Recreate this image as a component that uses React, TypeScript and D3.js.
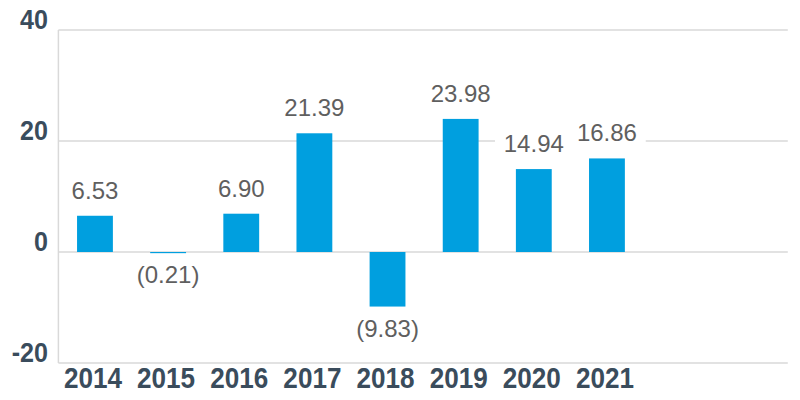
import React from "react";
import * as d3 from "d3";

const categories = ["2014", "2015", "2016", "2017", "2018", "2019", "2020", "2021"];
const values = [6.53, -0.21, 6.9, 21.39, -9.83, 23.98, 14.94, 16.86];
const yTicks = [-20, 0, 20, 40];
const totalSlots = 10;

const W = 800;
const H = 400;
const plotLeft = 58.4;
const plotRight = 789.8;
const plotTop = 30;
const plotBottom = 363;

const fmt = (v: number) => (v < 0 ? `(${Math.abs(v).toFixed(2)})` : v.toFixed(2));

export default function App() {
  const x = d3
    .scaleBand<number>()
    .domain(d3.range(totalSlots))
    .range([plotLeft, plotRight])
    .paddingInner(0.51)
    .paddingOuter(0.255);
  const y = d3.scaleLinear().domain([-20, 40]).range([plotBottom, plotTop]);
  const font = "Arial, 'Liberation Sans', sans-serif";

  const labelSize = 24;
  const labels = values.map((v, i) => {
    const cx = (x(i) as number) + x.bandwidth() / 2;
    const baseline = v >= 0 ? y(v) - 17 : y(v) + 30;
    const text = fmt(v);
    const w = text.length * labelSize * 0.53;
    return { cx, baseline, text, w };
  });

  return (
    <svg
      width={W}
      height={H}
      style={{ position: "absolute", left: 0, top: 0, display: "block", background: "#fff" }}
    >
      {yTicks.map((t) => (
        <line key={"g" + t} x1={plotLeft} x2={plotRight - 2} y1={y(t)} y2={y(t)} stroke="#d9d9d9" strokeWidth={1.5} />
      ))}
      <line x1={plotLeft} x2={plotLeft} y1={plotTop} y2={plotBottom} stroke="#d9d9d9" strokeWidth={1.5} />
      {values.map((v, i) => (
        <rect
          key={"b" + i}
          x={x(i)}
          width={x.bandwidth()}
          y={y(Math.max(0, v))}
          height={Math.abs(y(v) - y(0))}
          fill="#009fdf"
        />
      ))}
      {labels.map((l, i) => (
        <g key={"l" + i}>
          <rect x={l.cx - l.w / 2 - 7} y={l.baseline - 20} width={l.w + 14} height={24} fill="#fff" />
          <text
            x={l.cx}
            y={l.baseline}
            textAnchor="middle"
            fontFamily={font}
            fontSize={labelSize}
            fill="#5f5f5f"
          >
            {l.text}
          </text>
        </g>
      ))}
      {yTicks.map((t) => (
        <text
          key={"y" + t}
          transform={`translate(48,${y(t) - 1}) scale(0.93,1)`}
          textAnchor="end"
          fontFamily={font}
          fontWeight="bold"
          fontSize={27}
          fill="#3a4c5c"
        >
          {t}
        </text>
      ))}
      {categories.map((c, i) => (
        <text
          key={"x" + c}
          transform={`translate(${(x(i) as number) + x.bandwidth() / 2 - 2},388) scale(0.9,1)`}
          textAnchor="middle"
          fontFamily={font}
          fontWeight="bold"
          fontSize={29}
          fill="#3a4c5c"
        >
          {c}
        </text>
      ))}
    </svg>
  );
}
